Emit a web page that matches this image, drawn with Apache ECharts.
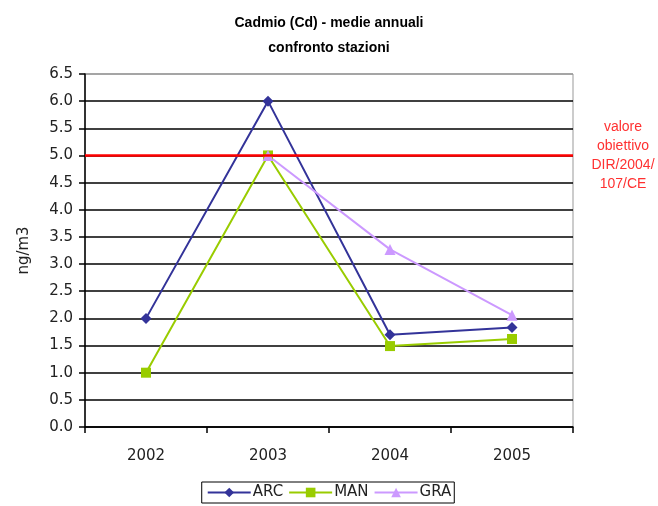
<!DOCTYPE html>
<html>
<head>
<meta charset="utf-8">
<script src="https://cdn.jsdelivr.net/npm/echarts@6/dist/echarts.min.js"></script>
<style>html,body{margin:0;padding:0;background:#fff}#c{width:658px;height:506px}</style>
</head>
<body>
<div id="c"></div>
<script>
const categories = ['2002', '2003', '2004', '2005'];
const arc = [2.0, 6.0, 1.7, 1.83];
const man = [1.0, 5.0, 1.49, 1.62];
const gra = [null, 5.0, 3.27, 2.06];
const limitValue = 5.0;
const limitLabel = 'valore\nobiettivo\nDIR/2004/\n107/CE';
const yTickMin = 0, yTickMax = 6.5, yTickStep = 0.5;

const font = 'Liberation Sans, Arial, sans-serif';
const axisFont = 'DejaVu Sans, sans-serif';
const chart = echarts.init(document.getElementById('c'));
const splitColors = [];
for (let v = yTickMin; v <= yTickMax + 1e-9; v += yTickStep) splitColors.push(v >= yTickMax - 1e-9 ? '#999999' : '#000000');

chart.setOption({
  animation: false,
  backgroundColor: '#ffffff',
  textStyle: { fontFamily: font },
  title: {
    text: 'Cadmio (Cd) - medie annuali\nconfronto stazioni',
    left: 'center',
    top: 6,
    textStyle: { fontFamily: font, fontSize: 14, fontWeight: 'bold', color: '#000', lineHeight: 25 }
  },
  legend: {
    bottom: 3,
    left: 'center',
    data: ['ARC', 'MAN', 'GRA'],
    itemWidth: 43,
    itemHeight: 12,
    itemGap: 5,
    padding: [3, 3, 3, 5],
    borderColor: '#000',
    borderWidth: 1,
    textStyle: { fontFamily: axisFont, fontSize: 15, color: '#222', padding: [0, 0, 0, -3] }
  },
  grid: {
    left: 85, right: 85, top: 74, bottom: 79,
    show: true, borderColor: '#999999', borderWidth: 1
  },
  xAxis: {
    type: 'category',
    data: categories,
    boundaryGap: true,
    axisLine: { lineStyle: { color: '#000', width: 1.5 } },
    axisTick: { show: true, length: 6, lineStyle: { color: '#000', width: 1.5 } },
    axisLabel: { fontFamily: axisFont, fontSize: 15, color: '#222', margin: 22 }
  },
  yAxis: {
    type: 'value',
    min: yTickMin, max: yTickMax, interval: yTickStep,
    name: 'ng/m3',
    nameLocation: 'middle',
    nameGap: 53,
    nameTextStyle: { fontFamily: axisFont, fontSize: 15, color: '#222' },
    axisLine: { show: true, lineStyle: { color: '#000', width: 1.5 } },
    axisTick: { show: true, length: 6, lineStyle: { color: '#000', width: 1.5 } },
    axisLabel: { fontFamily: axisFont, fontSize: 15, color: '#222', margin: 12, formatter: v => v.toFixed(1) },
    splitLine: { show: true, lineStyle: { color: splitColors, width: 1.5 } }
  },
  series: [
    {
      name: 'ARC', type: 'line', data: arc,
      symbol: 'diamond', symbolSize: 11,
      lineStyle: { color: '#333399', width: 2 },
      itemStyle: { color: '#333399' },
      markLine: {
        silent: true,
        symbol: ['none', 'none'],
        data: [{ yAxis: limitValue }],
        lineStyle: { color: '#ff0000', width: 2.5, type: 'solid' },
        label: {
          show: true, position: 'end', formatter: limitLabel,
          distance: 50, align: 'center',
          color: '#ff3030', fontFamily: font, fontSize: 14, lineHeight: 19
        }
      }
    },
    {
      name: 'MAN', type: 'line', data: man,
      symbol: 'rect', symbolSize: 10,
      lineStyle: { color: '#99cc00', width: 2 },
      itemStyle: { color: '#99cc00' }
    },
    {
      name: 'GRA', type: 'line', data: gra,
      symbol: 'triangle', symbolSize: 11,
      lineStyle: { color: '#cc99ff', width: 2 },
      itemStyle: { color: '#cc99ff' }
    }
  ]
});
</script>
</body>
</html>
